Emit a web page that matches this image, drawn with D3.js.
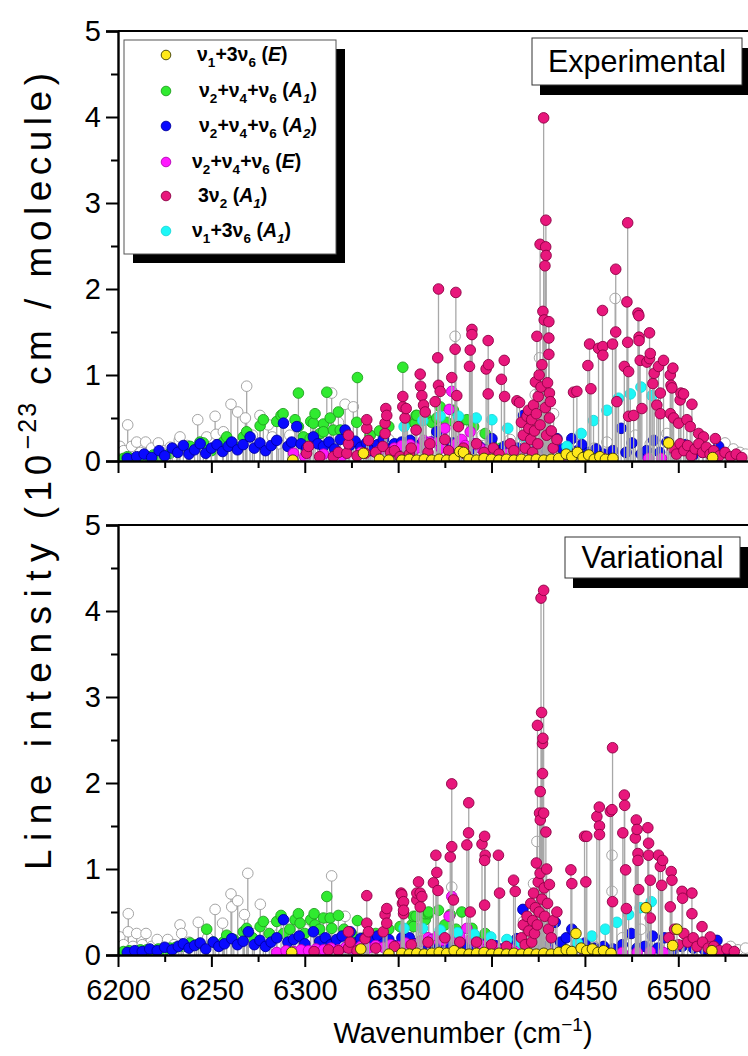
<!DOCTYPE html>
<html><head><meta charset="utf-8">
<script src="https://cdn.jsdelivr.net/npm/d3@7"></script>
<style>body{margin:0;background:#fff}svg{display:block}text{font-family:Arial,"Liberation Sans",sans-serif}</style>
</head><body><svg id="c" width="748" height="1056"></svg>
<script>
// ---------------- data ----------------
const xMajorTicks = [6200,6250,6300,6350,6400,6450,6500];
const xMinorTicks = [6225,6275,6325,6375,6425,6475,6525];
const yMajorTicks = [0,1,2,3,4,5];
const yMinorTicks = [0.5,1.5,2.5,3.5,4.5];
const panelNames = ["Experimental","Variational"];
const seriesKeys = ["yellow","green","blue","magenta","pink","cyan"];
const drawOrder = ["gray","green","blue","magenta","cyan","pink","yellow"];

const expGray = [[6201,0.17],[6203,0.12],[6205.2,0.42],[6207.3,0.17],[6210,0.22],[6212,0.1],[6214.8,0.22],[6218,0.15],[6221.6,0.21],[6225,0.12],[6228,0.16],[6232.8,0.24],[6233.2,0.28],[6237,0.18],[6242.7,0.48],[6247.5,0.28],[6252,0.52],[6252.5,0.31],[6256.4,0.34],[6260.5,0.66],[6264.1,0.57],[6268.2,0.50],[6268.9,0.87],[6272,0.3],[6276,0.53],[6280.5,0.42],[6282.6,0.28],[6286,0.2],[6292,0.3],[6298,0.25],[6307,0.35],[6314.4,0.79],[6318,0.45],[6321.6,0.66],[6326,0.63],[6335,0.3],[6345,0.25],[6360,0.3],[6380.5,1.45],[6395,0.3],[6410,0.25],[6423.4,0.77],[6425.7,1.20],[6433.2,0.55],[6445,0.2],[6455,0.15],[6461.8,0.22],[6466.2,1.89],[6477,0.30],[6485,0.2],[6493.9,0.32],[6500,0.15],[6505,0.12],[6510,0.18],[6515,0.1],[6525,0.21],[6529.5,0.14],[6533,0.1],[6536,0.08]];
const expGreen = [[6202.9,0.03],[6205,0.05],[6208.2,0.02],[6211,0.04],[6213.6,0.02],[6216,0.05],[6218.9,0.07],[6223.4,0.03],[6227.9,0.09],[6231.4,0.11],[6236.8,0.15],[6238.6,0.17],[6243.9,0.22],[6245.7,0.21],[6250,0.12],[6256.4,0.22],[6258.2,0.28],[6260.9,0.19],[6264,0.15],[6267.1,0.28],[6268.9,0.34],[6276.1,0.41],[6277.8,0.48],[6285,0.46],[6287.3,0.53],[6288.4,0.55],[6294.8,0.48],[6296.6,0.40],[6296.6,0.79],[6299.3,0.28],[6302.9,0.26],[6303.2,0.46],[6304.6,0.44],[6305.5,0.55],[6308.2,0.32],[6310,0.43],[6310,0.34],[6311.8,0.80],[6313.6,0.50],[6315.3,0.36],[6318,0.57],[6319,0.36],[6327.8,0.45],[6328.2,0.97],[6335,0.3],[6340,0.35],[6345,0.4],[6352.5,1.09],[6355,0.45],[6359.1,0.44],[6359.6,0.53],[6360,0.53],[6365,0.5],[6368,0.45],[6370.7,0.50],[6372.5,0.63],[6376,0.45],[6379.6,0.59],[6383,0.45],[6386.8,0.48],[6390.4,0.40],[6396.6,0.32],[6400,0.2],[6405,0.15]];
const expBlue = [[6205,0.03],[6210,0.05],[6214,0.08],[6218,0.04],[6222,0.12],[6225,0.06],[6229,0.15],[6232,0.10],[6235,0.18],[6238,0.08],[6241,0.13],[6244,0.20],[6247,0.09],[6250,0.15],[6253,0.19],[6256,0.11],[6259,0.17],[6260.9,0.22],[6264,0.13],[6267,0.19],[6270.7,0.28],[6273,0.15],[6276,0.21],[6279,0.12],[6282,0.18],[6285,0.24],[6288.6,0.44],[6291,0.17],[6293,0.22],[6295.7,0.40],[6298,0.2],[6301,0.15],[6304.6,0.28],[6307,0.2],[6310,0.17],[6313,0.22],[6316,0.14],[6319,0.25],[6321.6,0.36],[6324,0.18],[6327,0.23],[6330,0.16],[6333,0.21],[6336,0.12],[6339,0.19],[6342,0.25],[6345,0.14],[6348,0.2],[6351.9,0.22],[6354,0.12],[6356.4,0.24],[6359,0.16],[6362,0.19],[6365,0.13],[6368,0.22],[6370.7,0.34],[6373,0.18],[6376,0.15],[6379,0.21],[6382,0.14],[6385,0.18],[6388,0.12],[6391,0.2],[6394,0.16],[6397,0.13],[6400.2,0.26],[6403,0.12],[6407,0.17],[6410,0.1],[6414,0.15],[6417.1,0.53],[6421,0.12],[6425,0.08],[6430,0.15],[6435,0.26],[6438,0.14],[6443,0.26],[6446,0.12],[6448.4,0.19],[6452,0.1],[6456,0.14],[6460,0.08],[6465,0.12],[6469.4,0.38],[6472,0.1],[6475.2,0.21],[6480,0.08],[6483,0.12],[6486.8,0.24],[6490,0.1],[6493.9,0.22],[6498,0.1],[6503.8,0.19],[6508,0.07],[6513,0.1],[6521.6,0.17]];
const expMagenta = [[6294,0.09],[6300,0.05],[6310,0.08],[6320,0.06],[6330,0.1],[6340,0.12],[6348,0.15],[6352,0.18],[6356.4,0.19],[6360,0.15],[6363.6,0.24],[6364.5,0.21],[6367.1,0.22],[6370.7,0.21],[6373,0.15],[6375,0.38],[6377.4,0.60],[6378.7,0.81],[6381,0.2],[6384,0.25],[6386,0.18],[6388.6,0.34],[6391,0.2],[6394,0.15],[6398,0.12],[6402,0.1],[6408,0.08],[6415,0.06],[6425,0.05],[6440,0.04],[6460,0.03],[6484,0.03],[6491,0.03]];
const expCyan = [[6353.2,0.40],[6354,0.02],[6363.2,0.47],[6372.5,0.52],[6382.3,0.52],[6391.8,0.50],[6400.2,0.48],[6408.7,0.38],[6417.1,0.28],[6440.4,0.17],[6448,0.32],[6454.6,0.47],[6461.8,0.59],[6468,0.73],[6474.3,0.78],[6480,0.86],[6485.9,0.76]];
const expPink = [[6301,0.09],[6302,0.17],[6308,0.05],[6315.3,0.05],[6318,0.1],[6322.5,0.09],[6323.4,0.20],[6323.4,0.30],[6328,0.06],[6332.3,0.09],[6333.2,0.38],[6333.2,0.48],[6334.1,0.24],[6338,0.1],[6341.8,0.17],[6343,0.32],[6343,0.44],[6343.4,0.61],[6343.9,0.53],[6346,0.1],[6348,0.12],[6351,0.05],[6352.5,0.63],[6352.5,0.75],[6353.7,0.50],[6354.3,0.61],[6356,0.08],[6357,0.15],[6359.6,0.36],[6361.8,1.01],[6362,0.87],[6362.7,0.76],[6363.6,0.65],[6364.5,0.57],[6366,0.1],[6367,0.2],[6369.8,0.69],[6371.2,1.20],[6371.6,2.00],[6371.6,0.88],[6372.5,0.81],[6375,0.25],[6377,0.12],[6378.7,0.97],[6380.5,1.30],[6380.9,1.96],[6381.4,0.76],[6382.3,0.40],[6385,0.15],[6386,0.08],[6388.2,1.10],[6388.6,1.29],[6389.5,1.53],[6389.5,1.47],[6392,0.2],[6396,0.1],[6397.1,1.07],[6398.2,1.40],[6398.4,1.12],[6398.2,0.78],[6401,0.15],[6404,0.08],[6405.3,0.95],[6406.8,1.17],[6407,0.75],[6410,0.2],[6412,0.12],[6413.6,0.70],[6415,0.68],[6416,0.45],[6417,0.3],[6418,0.15],[6419,0.52],[6419.8,0.59],[6420,0.38],[6421,0.25],[6421.5,0.48],[6422,0.1],[6422.5,0.65],[6423,0.35],[6423.5,0.92],[6424,0.55],[6424.3,1.45],[6424.8,0.2],[6425,0.75],[6425.5,1.0],[6426,2.52],[6426,0.42],[6426.5,0.86],[6427,1.12],[6427.5,1.74],[6427.9,3.99],[6428.2,1.64],[6428.6,2.27],[6428.8,0.62],[6429,2.49],[6429.1,2.80],[6429.2,2.39],[6429.5,0.3],[6430,0.91],[6430.7,1.62],[6430.7,1.43],[6430.7,1.24],[6431,0.79],[6431.5,0.69],[6431,0.5],[6432,0.35],[6433,0.15],[6435,0.25],[6443.9,0.80],[6445.7,0.81],[6451.6,1.11],[6452.5,1.36],[6453.2,0.84],[6457.3,1.31],[6459.4,1.75],[6459.6,1.33],[6459.6,1.23],[6464.8,1.36],[6466.5,2.23],[6466.5,1.50],[6467.1,0.69],[6471.1,1.10],[6472.5,1.85],[6472.9,2.77],[6472.9,1.38],[6473.4,1.04],[6473.4,0.52],[6476.1,0.53],[6478.4,1.72],[6478.9,1.69],[6479,1.44],[6479,1.40],[6479.6,1.17],[6480.5,0.61],[6483.2,1.15],[6484.6,1.49],[6484.6,1.19],[6485,1.25],[6486.4,0.90],[6487.1,1.02],[6488.5,0.65],[6489.4,1.10],[6490.4,0.79],[6490.4,0.55],[6492.1,1.17],[6495.7,1.00],[6495.7,0.55],[6496.1,0.88],[6496.6,0.85],[6497.1,1.08],[6497.5,0.50],[6500.2,0.44],[6501,0.71],[6501.4,0.79],[6502.8,0.78],[6504.6,0.48],[6506.4,0.40],[6507.3,0.66],[6510.9,0.32],[6513.5,0.28],[6519.8,0.26],[6497,0.15],[6499,0.08],[6501,0.2],[6503,0.12],[6505,0.18],[6507,0.06],[6509,0.14],[6511,0.2],[6513,0.1],[6515,0.16],[6517,0.08],[6519,0.12],[6522,0.06],[6525,0.1],[6528,0.05],[6531,0.08],[6534,0.04]];
const expYellow = [[6293.6,0.01],[6331.4,0.09],[6340,0.02],[6345,0.01],[6352,0.01],[6356,0.02],[6360,0.01],[6364,0.02],[6368,0.01],[6372,0.02],[6376,0.01],[6380,0.03],[6383,0.11],[6385,0.10],[6388,0.02],[6392,0.01],[6396,0.03],[6400,0.02],[6404,0.01],[6408,0.02],[6412,0.01],[6416,0.02],[6420,0.01],[6424,0.02],[6428,0.01],[6432,0.02],[6436,0.03],[6440,0.08],[6443,0.05],[6446,0.1],[6449,0.04],[6452,0.07],[6455,0.02],[6458,0.05],[6461,0.02],[6465,0.03],[6494.8,0.21],[6518.4,0.04]];

const varGray = [[6201,0.21],[6203,0.12],[6205.5,0.48],[6205.5,0.27],[6208,0.1],[6210,0.25],[6213,0.12],[6215,0.25],[6218,0.1],[6221,0.18],[6226.6,0.18],[6230,0.12],[6233.2,0.35],[6234.1,0.25],[6238,0.15],[6243,0.38],[6248,0.2],[6252,0.53],[6256,0.37],[6260.5,0.71],[6260.9,0.56],[6264.1,0.63],[6267.7,0.47],[6269.5,0.95],[6273,0.25],[6276.2,0.59],[6282.3,0.33],[6290,0.2],[6300,0.3],[6307,0.25],[6314.4,0.92],[6321.6,0.45],[6330,0.2],[6345,0.15],[6365,0.2],[6378.7,0.79],[6395,0.2],[6410,0.15],[6417.1,0.39],[6422.5,0.83],[6424.3,1.32],[6440,0.15],[6455,0.1],[6464.5,1.16],[6464.5,0.74],[6470,0.2],[6480,0.3],[6490,0.15],[6500,0.1],[6510,0.12],[6520,0.08],[6528,0.1],[6532,0.06],[6536,0.08]];
const varGreen = [[6202.9,0.04],[6206,0.05],[6209.1,0.04],[6212,0.06],[6215.4,0.06],[6218,0.05],[6221.6,0.07],[6225,0.06],[6228,0.08],[6231,0.09],[6235,0.10],[6238.6,0.14],[6242,0.12],[6247.5,0.30],[6251,0.15],[6256.4,0.15],[6258.2,0.23],[6262,0.18],[6267.1,0.27],[6268.9,0.31],[6272,0.2],[6276.1,0.33],[6277.8,0.39],[6281,0.25],[6285,0.39],[6287.3,0.46],[6288.6,0.25],[6292,0.3],[6294.8,0.41],[6296.6,0.48],[6297.5,0.37],[6300,0.25],[6303.2,0.41],[6305,0.48],[6305.5,0.35],[6308,0.3],[6310,0.43],[6311.8,0.68],[6313.6,0.43],[6314.5,0.31],[6318,0.46],[6321,0.3],[6325,0.25],[6328.2,0.40],[6332,0.2],[6338,0.25],[6345,0.3],[6351,0.33],[6357.3,0.35],[6358.2,0.45],[6358.2,0.33],[6359.6,0.45],[6364.5,0.41],[6364.5,0.48],[6366.3,0.48],[6366.3,0.50],[6371.6,0.52],[6375,0.35],[6377.9,0.47],[6381,0.3],[6384.1,0.50],[6389.5,0.31],[6392,0.2],[6396.6,0.25],[6400,0.12]];
const varBlue = [[6205,0.03],[6209,0.05],[6213,0.04],[6217,0.07],[6221,0.05],[6225,0.09],[6229,0.06],[6232.3,0.10],[6235,0.13],[6238,0.08],[6241,0.11],[6244,0.14],[6247,0.07],[6251,0.15],[6254,0.1],[6257,0.13],[6260.9,0.19],[6264,0.12],[6267,0.16],[6269.8,0.27],[6273,0.12],[6276,0.17],[6279,0.1],[6282,0.15],[6285,0.2],[6288.6,0.41],[6291,0.15],[6294,0.18],[6297,0.22],[6300,0.13],[6304.6,0.27],[6308,0.16],[6311,0.2],[6314,0.12],[6317,0.18],[6320,0.22],[6324.3,0.27],[6327,0.14],[6330,0.19],[6333,0.12],[6336,0.17],[6339,0.22],[6342,0.13],[6345,0.18],[6348,0.11],[6352,0.2],[6356,0.2],[6359,0.13],[6362,0.16],[6366,0.11],[6369,0.15],[6372,0.12],[6375,0.17],[6378,0.1],[6381,0.14],[6384,0.09],[6387,0.12],[6390,0.1],[6394,0.13],[6398,0.08],[6402,0.11],[6406,0.07],[6410,0.1],[6413.6,0.19],[6416.8,0.53],[6420,0.08],[6425,0.05],[6430,0.1],[6434.1,0.38],[6437,0.15],[6440,0.2],[6443,0.30],[6446,0.1],[6450,0.14],[6455,0.08],[6460,0.1],[6465,0.07],[6470,0.12],[6474.8,0.25],[6478,0.08],[6482,0.1],[6486.2,0.22],[6489,0.08],[6492.5,0.20],[6497,0.06],[6502,0.1],[6508,0.08],[6514,0.06],[6520.7,0.17],[6526,0.05]];
const varMagenta = [[6285,0.03],[6290,0.05],[6294,0.04],[6298,0.06],[6302,0.05],[6306,0.07],[6310,0.06],[6314,0.08],[6318,0.06],[6322,0.09],[6326,0.07],[6330,0.1],[6334,0.08],[6338,0.11],[6342,0.09],[6346,0.12],[6350,0.1],[6354,0.14],[6358,0.12],[6362,0.16],[6366,0.2],[6368,0.18],[6371,0.22],[6374,0.17],[6377.3,0.45],[6378.7,0.68],[6380,0.2],[6383,0.22],[6386.8,0.31],[6389,0.18],[6392,0.14],[6395,0.11],[6398,0.09],[6402,0.08],[6406,0.06],[6410,0.07],[6415,0.05],[6420,0.04],[6430,0.05],[6440,0.04],[6450,0.03],[6460,0.04],[6470,0.03],[6478,0.03],[6485,0.04],[6492,0.03]];
const varCyan = [[6353.2,0.31],[6363,0.31],[6372.5,0.29],[6381.8,0.26],[6390.7,0.24],[6399.6,0.21],[6408.2,0.18],[6415.9,0.14],[6440,0.05],[6446,0.14],[6453.7,0.22],[6460.9,0.30],[6467.1,0.38],[6473.4,0.47],[6479.6,0.55],[6485.5,0.62]];
const varPink = [[6305,0.04],[6312.7,0.06],[6318,0.05],[6323.4,0.08],[6324.3,0.15],[6323.4,0.27],[6328,0.05],[6332.3,0.19],[6333.2,0.37],[6333.2,0.69],[6334.1,0.27],[6338,0.08],[6342,0.27],[6343,0.47],[6343.9,0.37],[6343.9,0.54],[6348,0.1],[6351.6,0.72],[6352,0.70],[6352.3,0.60],[6352.9,0.48],[6352.9,0.62],[6352.9,0.52],[6357,0.12],[6360,0.64],[6360,0.72],[6360.9,0.85],[6361.8,0.72],[6361.8,0.56],[6362.7,0.68],[6366,0.15],[6368.9,0.84],[6370.2,1.16],[6370.7,0.96],[6371.3,0.75],[6375,0.2],[6377.9,1.14],[6378.7,1.26],[6378.7,1.99],[6379.6,0.64],[6383,0.15],[6386.8,1.28],[6387.7,1.42],[6387.8,1.77],[6388.6,0.50],[6392,0.15],[6394.9,1.29],[6396.3,1.38],[6396.6,1.16],[6396.3,1.10],[6396.3,0.58],[6400,0.12],[6403.7,1.16],[6404.3,0.72],[6408,0.1],[6411.8,0.87],[6412.7,0.74],[6416,0.2],[6417,0.35],[6418,0.12],[6419,0.45],[6420,0.28],[6421,0.6],[6421.5,0.15],[6422,0.4],[6422.5,0.72],[6423,0.25],[6423.5,0.55],[6424,1.07],[6424.5,0.35],[6424.6,2.67],[6425,0.85],[6425.5,0.5],[6425.7,1.65],[6426,0.95],[6426.1,1.57],[6426.1,1.90],[6426.5,4.15],[6426.8,2.82],[6427,0.65],[6427.3,2.46],[6427.3,2.11],[6427.5,2.52],[6427.9,4.24],[6427.9,1.65],[6428.2,0.78],[6428.5,0.45],[6429.1,1.43],[6429.5,1.0],[6430,0.6],[6430.5,0.3],[6431,0.82],[6432,0.2],[6433,0.4],[6435,0.50],[6442.5,0.99],[6443,0.83],[6449.8,1.38],[6450.5,0.85],[6451,1.38],[6456.4,1.61],[6457.7,1.72],[6457.8,1.50],[6457.8,1.40],[6463.6,1.67],[6464.5,1.69],[6464.8,2.41],[6464.8,0.62],[6470.3,1.42],[6471.1,1.86],[6471.3,1.74],[6471.8,0.99],[6472.2,0.54],[6477,1.36],[6477.5,1.57],[6477.9,1.46],[6478.4,1.18],[6478.4,1.10],[6478.8,0.76],[6483.7,1.48],[6484.1,1.30],[6484.1,1.16],[6485,0.87],[6485,0.43],[6489.4,1.16],[6490.4,1.03],[6491.1,0.81],[6491.6,1.10],[6495.7,0.56],[6496.2,0.97],[6496.6,0.87],[6502,0.74],[6502.3,0.66],[6507.3,0.72],[6507.3,0.48],[6512.7,0.33],[6517.1,0.21],[6495,0.2],[6498,0.3],[6500,0.12],[6503,0.25],[6505,0.15],[6508,0.2],[6510,0.1],[6513,0.15],[6516,0.08],[6519,0.1],[6522,0.05],[6526,0.07],[6530,0.04]];
const varYellow = [[6293,0.03],[6330,0.07],[6345,0.01],[6352,0.02],[6356,0.01],[6360,0.02],[6364,0.01],[6368,0.02],[6372,0.03],[6376,0.02],[6380,0.05],[6384,0.02],[6388,0.01],[6392,0.02],[6396,0.03],[6400,0.01],[6404,0.02],[6408,0.01],[6412,0.02],[6416,0.01],[6420,0.02],[6424,0.01],[6428,0.02],[6432,0.01],[6436,0.03],[6440,0.06],[6443,0.04],[6445.2,0.25],[6448,0.08],[6451,0.05],[6454,0.07],[6457,0.03],[6460,0.05],[6464,0.02],[6482.7,0.55],[6497,0.11],[6499.3,0.30],[6518,0.05]];

// legend label segments: [text, kind]
const legendLabels = [
 [["ν"],["1","sub"],["+3ν"],["6","sub"],[" ("],["E","it"],[")"]],
 [["ν"],["2","sub"],["+ν"],["4","sub"],["+ν"],["6","sub"],[" ("],["A","it"],["1","subit"],[")"]],
 [["ν"],["2","sub"],["+ν"],["4","sub"],["+ν"],["6","sub"],[" ("],["A","it"],["2","subit"],[")"]],
 [["ν"],["2","sub"],["+ν"],["4","sub"],["+ν"],["6","sub"],[" ("],["E","it"],[")"]],
 [["3ν"],["2","sub"],[" ("],["A","it"],["1","subit"],[")"]],
 [["ν"],["1","sub"],["+3ν"],["6","sub"],[" ("],["A","it"],["1","subit"],[")"]]
];

// ---------------- styles ----------------
const style = {
  gray:    {fill:"#ffffff", stroke:"#9a9a9a"},
  yellow:  {fill:"#ffe81a", stroke:"#3a3a00"},
  green:   {fill:"#30ea30", stroke:"#1f9f1f"},
  blue:    {fill:"#0a0aff", stroke:"#0000a0"},
  magenta: {fill:"#ff1aff", stroke:"#b400b4"},
  pink:    {fill:"#e8177c", stroke:"#8c0044"},
  cyan:    {fill:"#1cf7f7", stroke:"#19d8d8"}
};

const panels = [
  {name: panelNames[0], top:31, bottom:461, labels:false,
   data:{gray:expGray, green:expGreen, blue:expBlue, magenta:expMagenta, cyan:expCyan, pink:expPink, yellow:expYellow},
   box:{x:532, y:38, w:210, h:47}},
  {name: panelNames[1], top:525, bottom:955, labels:true,
   data:{gray:varGray, green:varGreen, blue:varBlue, magenta:varMagenta, cyan:varCyan, pink:varPink, yellow:varYellow},
   box:{x:565, y:537, w:175, h:41}}
];

const svg = d3.select("#c");
const left = 118, right = 753;
const x = d3.scaleLinear().domain([6200, 6540]).range([left, right]);

panels.forEach((p, i) => {
  const y = d3.scaleLinear().domain([0, 5]).range([p.bottom, p.top]);
  const g = svg.append("g");
  const clipId = "clip" + i;
  svg.append("clipPath").attr("id", clipId).append("rect")
    .attr("x", left).attr("y", p.top).attr("width", 760 - left).attr("height", p.bottom - p.top);
  const plot = g.append("g").attr("clip-path", `url(#${clipId})`);

  drawOrder.forEach(k => {
    const d = p.data[k];
    const sg = plot.append("g");
    sg.selectAll("line").data(d).join("line")
      .attr("x1", v => x(v[0])).attr("x2", v => x(v[0]))
      .attr("y1", y(0)).attr("y2", v => y(v[1]))
      .attr("stroke", "#a8a8a8").attr("stroke-width", 1.3);
    sg.selectAll("circle").data(d).join("circle")
      .attr("cx", v => x(v[0])).attr("cy", v => y(v[1])).attr("r", 5.3)
      .attr("fill", style[k].fill).attr("stroke", style[k].stroke).attr("stroke-width", 0.9);
  });

  // top frame line
  g.append("line").attr("x1", left).attr("x2", 760).attr("y1", p.top).attr("y2", p.top)
    .attr("stroke", "#000").attr("stroke-width", 2.2);

  // axes
  const yAx = g.append("g").attr("transform", `translate(${left},0)`)
    .call(d3.axisLeft(y).tickValues(yMajorTicks).tickSize(12).tickPadding(5).tickFormat(d3.format("d")));
  g.append("g").attr("transform", `translate(${left},0)`)
    .call(d3.axisLeft(y).tickValues(yMinorTicks).tickSize(7).tickFormat(""))
    .select(".domain").remove();
  const xAx = g.append("g").attr("transform", `translate(0,${p.bottom})`)
    .call(d3.axisBottom(x).tickValues(xMajorTicks).tickSize(12).tickPadding(12)
      .tickFormat(p.labels ? d3.format("d") : ""));
  g.append("g").attr("transform", `translate(0,${p.bottom})`)
    .call(d3.axisBottom(x).tickValues(xMinorTicks).tickSize(7).tickFormat(""))
    .select(".domain").remove();
  [yAx, xAx].forEach(a => {
    a.select(".domain").attr("stroke-width", 2.4);
    a.selectAll(".tick text").attr("font-size", 29).attr("font-family", "Arial, 'Liberation Sans', sans-serif").attr("fill", "#000");
  });
  g.selectAll(".tick line").attr("stroke-width", 2);
  xAx.selectAll(".domain").attr("d", `M${left},0.5H760`);

  // panel label box with shadow
  const b = p.box;
  g.append("rect").attr("x", b.x + 8).attr("y", b.y + 10).attr("width", b.w).attr("height", b.h).attr("fill", "#000");
  g.append("rect").attr("x", b.x).attr("y", b.y).attr("width", b.w).attr("height", b.h)
    .attr("fill", "#fff").attr("stroke", "#333").attr("stroke-width", 1);
  g.append("text").attr("x", b.x + b.w / 2).attr("y", b.y + b.h / 2 + 10.5)
    .attr("text-anchor", "middle").attr("font-size", 30.5).text(p.name);
});

// legend
const lg = svg.append("g");
lg.append("rect").attr("x", 133).attr("y", 49).attr("width", 212).attr("height", 214).attr("fill", "#000");
lg.append("rect").attr("x", 124).attr("y", 40).attr("width", 212).attr("height", 214)
  .attr("fill", "#fff").attr("stroke", "#555").attr("stroke-width", 1);
const legendY = [55, 91, 126, 162, 196, 231];
const legendTx = [197, 199, 199, 192, 198, 192];
seriesKeys.forEach((k, i) => {
  lg.append("circle").attr("cx", 166).attr("cy", legendY[i]).attr("r", 4.8)
    .attr("fill", style[k].fill).attr("stroke", style[k].stroke).attr("stroke-width", 0.9);
  const t = lg.append("text").attr("x", legendTx[i]).attr("y", legendY[i] + 6)
    .attr("font-size", 19.5).attr("font-weight", "bold");
  let inSub = false;
  legendLabels[i].forEach(seg => {
    const kind = seg[1] || "";
    const sub = kind.startsWith("sub");
    const ts = t.append("tspan").text(seg[0]);
    if (sub) ts.attr("font-size", 13.5);
    if (kind === "it" || kind === "subit") ts.attr("font-style", "italic");
    if (sub && !inSub) ts.attr("dy", 6);
    if (!sub && inSub) ts.attr("dy", -6);
    inSub = sub;
  });
});

// y-axis title
const yt = svg.append("text").attr("transform", "translate(51,870) rotate(-90)")
  .attr("font-size", 37).attr("text-anchor", "start");
yt.append("tspan").attr("letter-spacing", 8.5).text("Line intensity");
yt.append("tspan").attr("letter-spacing", 5.5).text(" (10");
yt.append("tspan").attr("font-size", 25).attr("dy", -15).attr("letter-spacing", 2).text("−23");
yt.append("tspan").attr("dy", 15).attr("letter-spacing", 5.5).text(" cm / molecule)");

// x-axis title
const xt = svg.append("text").attr("x", 463).attr("y", 1043).attr("text-anchor", "middle").attr("font-size", 29);
xt.append("tspan").text("Wavenumber (cm");
xt.append("tspan").attr("font-size", 19).attr("dy", -12).text("−1");
xt.append("tspan").attr("dy", 12).text(")");
</script></body></html>
